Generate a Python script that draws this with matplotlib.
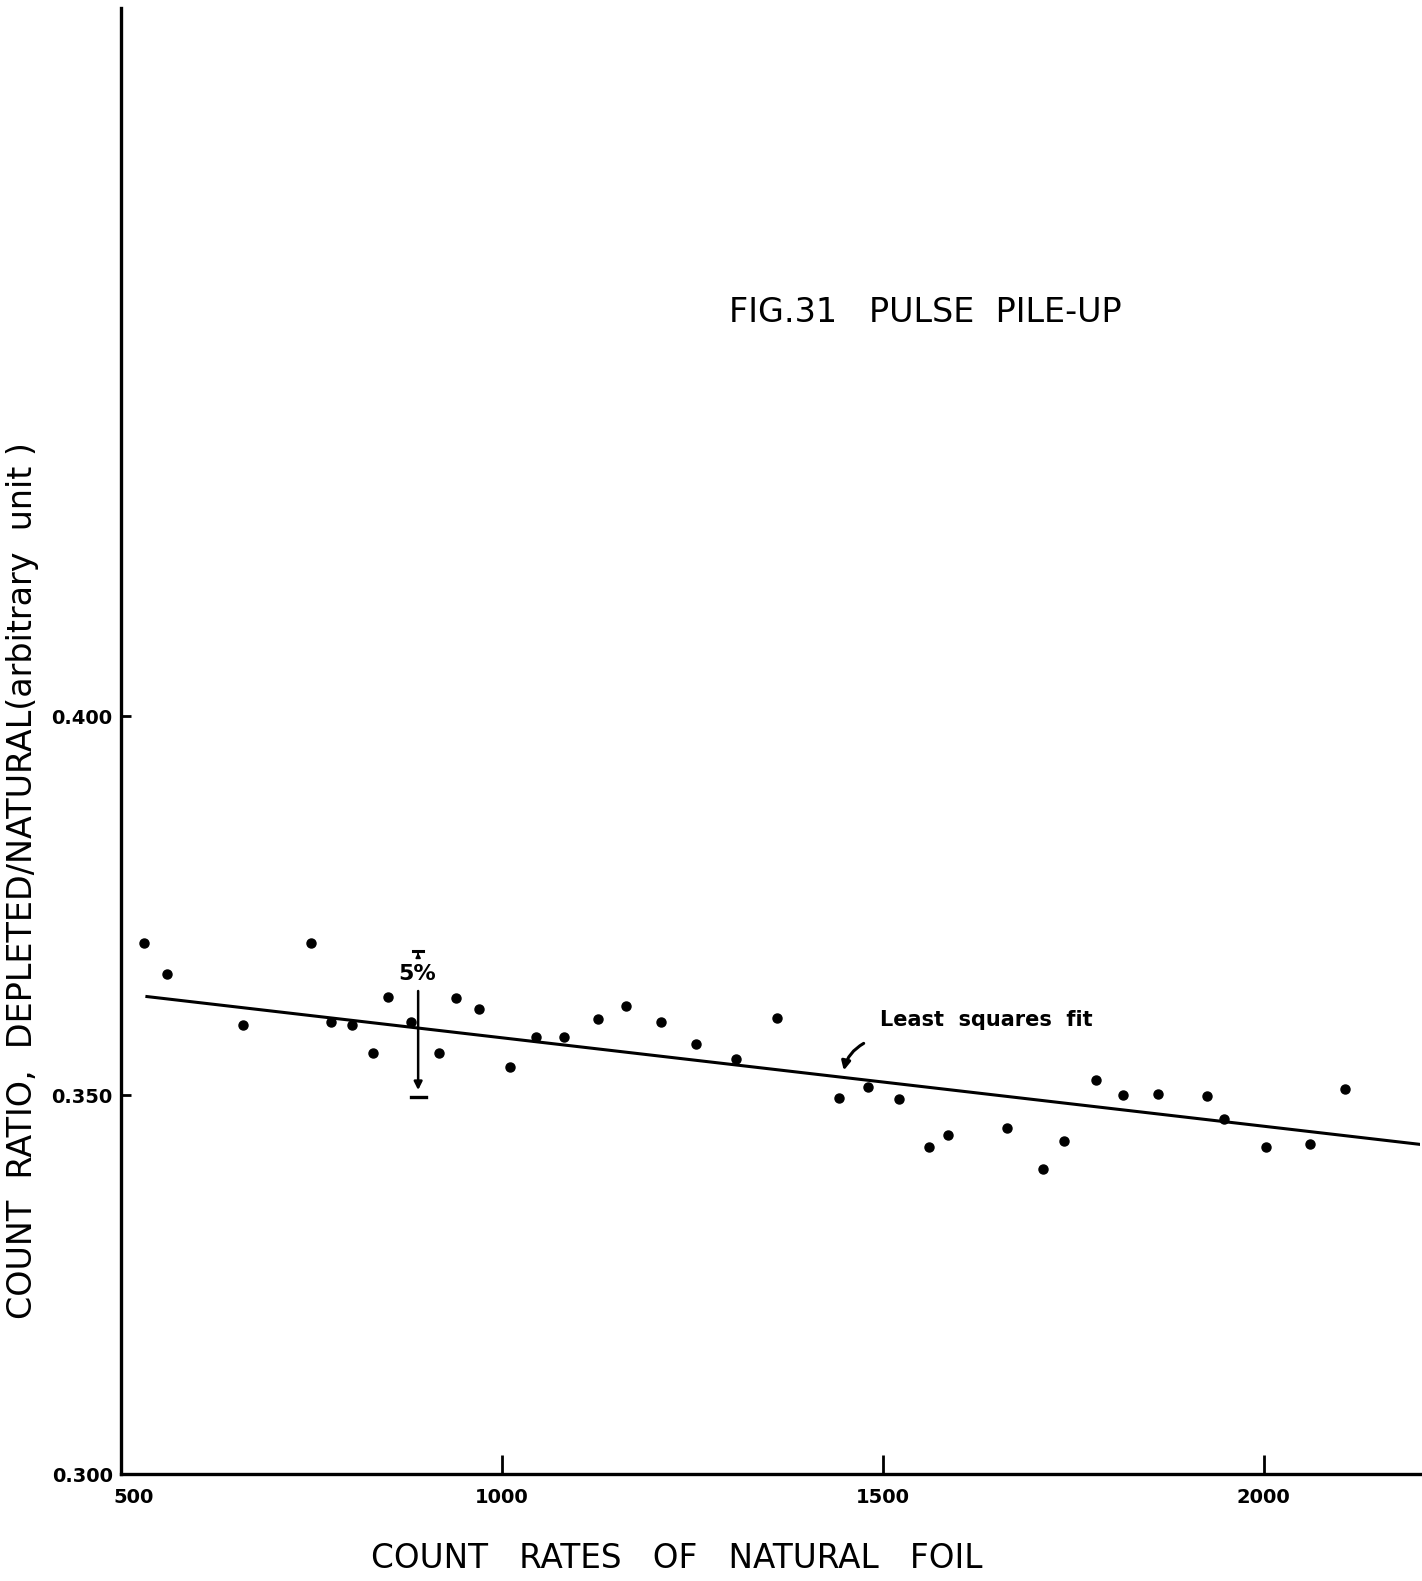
import matplotlib
matplotlib.use("Agg")
import matplotlib.pyplot as plt
from matplotlib.transforms import ScaledTranslation

# Measured count rates of the natural foil and the corresponding count ratio
count_rate = [530, 560, 660, 750, 776, 803, 831, 851, 881, 917, 940, 970,
              1011, 1045, 1082, 1126, 1163, 1209, 1255, 1307, 1361,
              1442, 1481, 1521, 1561, 1585, 1663, 1710, 1738, 1780,
              1815, 1861, 1925, 1948, 2003, 2061, 2106]
count_ratio = [0.3701, 0.3660, 0.3593, 0.3701, 0.3596, 0.3593, 0.3555, 0.3630,
               0.3597, 0.3555, 0.3628, 0.3614, 0.3537, 0.3577, 0.3576, 0.3601,
               0.3617, 0.3597, 0.3568, 0.3548, 0.3602, 0.3496, 0.3511, 0.3495,
               0.3431, 0.3448, 0.3457, 0.3403, 0.3440, 0.3520, 0.3500, 0.3501,
               0.3499, 0.3469, 0.3431, 0.3436, 0.3508]

# Least squares line (end points)
fit_x = [534, 2205]
fit_y = [0.3630, 0.3435]

# 5 % error indicator
err_x = 890
err_top = 0.3690
err_bottom = 0.3497

x_ticks = [500, 1000, 1500, 2000]
x_tick_labels = ["500", "1000", "1500", "2000"]
y_ticks = [0.300, 0.350, 0.400]
y_tick_labels = ["0.300", "0.350", "0.400"]

fig = plt.figure(figsize=(14.22, 15.81), dpi=100)
ax = fig.add_axes([0.0851, 0.0676, 0.9135, 0.9273])
ax.set_xlim(500, 2205)
ax.set_ylim(0.300, 0.4934)

for side in ("top", "right"):
    ax.spines[side].set_visible(False)
ax.spines["left"].set_linewidth(2.4)
ax.spines["bottom"].set_linewidth(2.4)

ax.plot(count_rate, count_ratio, "o", color="black", ms=6.5, zorder=3)
ax.plot(fit_x, fit_y, "-", color="black", lw=2.2)

# error bar with arrow heads and caps
ax.annotate("", xy=(err_x, err_bottom + 0.0006), xytext=(err_x, 0.3641),
            arrowprops=dict(arrowstyle="-|>", color="black", lw=1.8,
                            mutation_scale=12))
ax.plot([err_x - 10, err_x + 10], [err_bottom, err_bottom], color="black", lw=2.4)
ax.plot([err_x - 7, err_x + 7], [err_top, err_top], color="black", lw=2.2)
ax.annotate("", xy=(err_x, err_top - 0.0002), xytext=(err_x, err_top - 0.0008),
            arrowprops=dict(arrowstyle="-|>", color="black", lw=1.2,
                            mutation_scale=7))
ax.text(err_x - 1, 0.3660, "5%", ha="center", va="center", fontsize=16,
        fontweight="bold")

# annotation of the fitted line
ax.annotate("", xy=(1448, 0.3529), xytext=(1478, 0.3570),
            arrowprops=dict(arrowstyle="-|>", color="black", lw=2.2,
                            mutation_scale=13,
                            connectionstyle="arc3,rad=0.25"))
ax.text(1496, 0.3599, "Least  squares  fit", ha="left", va="center",
        fontsize=15, fontweight="bold")

ax.text(1298, 0.4532, "FIG.31   PULSE  PILE-UP", ha="left", va="center",
        fontsize=24)

ax.set_xticks(x_ticks)
ax.set_xticklabels(x_tick_labels, fontsize=14, fontweight="bold")
ax.set_yticks(y_ticks)
ax.set_yticklabels(y_tick_labels, fontsize=14, fontweight="bold")
ax.tick_params(axis="x", direction="in", length=14, width=2.0, pad=10)
ax.tick_params(axis="y", direction="in", length=7, width=2.0, pad=6)

# shift the first x label off the corner
lbl0 = ax.get_xticklabels()[0]
lbl0.set_transform(lbl0.get_transform() + ScaledTranslation(0.13, 0, fig.dpi_scale_trans))

ax.set_xlabel("COUNT   RATES   OF   NATURAL   FOIL", fontsize=23.5)
ax.set_ylabel("COUNT  RATIO,  DEPLETED/NATURAL(arbitrary  unit )", fontsize=24)
ax.yaxis.set_label_coords(-0.063, 0.405)
ax.xaxis.set_label_coords(0.428, -0.046)

fig.savefig("out.png", dpi=100, facecolor="white")
